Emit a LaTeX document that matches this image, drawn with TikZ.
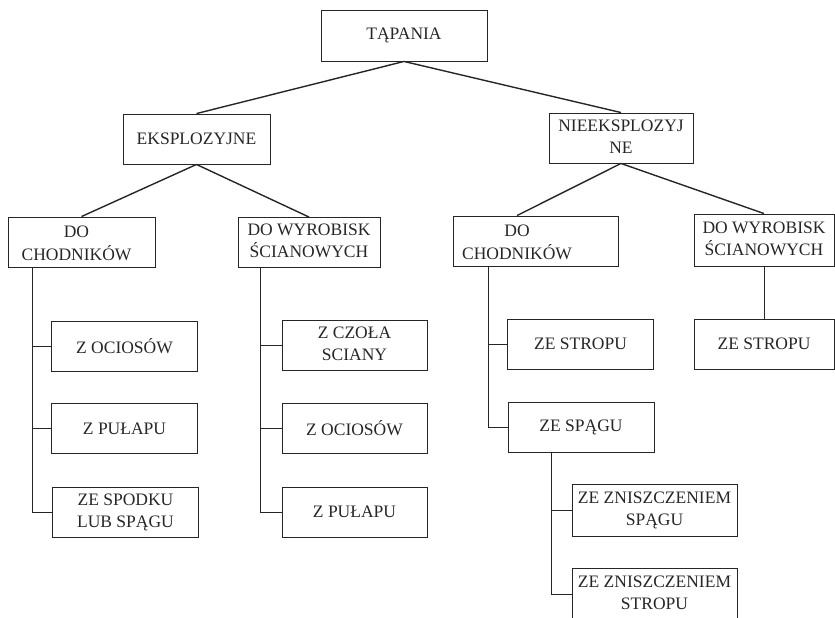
\documentclass[tikz,border=0pt]{standalone}
\usepackage{fontspec}
\setmainfont{Liberation Serif}
\usetikzlibrary{positioning}

\definecolor{ink}{gray}{0.15}
\newcommand{\twolines}[2]{\begin{tabular}{@{}c@{}}#1\\#2\end{tabular}}

\begin{document}
\begin{tikzpicture}[x=1pt, y=-1pt,
            every node/.style={draw=ink, text=ink, line width=0.9pt, minimum height=50pt, inner sep=2pt,
                minimum width=146pt, font=\fontsize{17.5}{22}\selectfont},
            wide/.style={minimum width=165pt},
            textonly/.style={draw=none, minimum height=0pt, minimum width=0pt, inner sep=0pt, anchor=base},
            branch/.style={draw=ink, line width=1.4pt},
            spine/.style={draw=ink, line width=0.9pt},
        ]
        \useasboundingbox (0,0) rectangle (835,618);

        \node (root) at (404,35.5) [minimum width=166pt, minimum height=51pt] {TĄPANIA};

        \node (eks) at (196.5,139) [minimum width=147pt] {EKSPLOZYJNE};
        \node (nie) at (621,138) [minimum width=144pt] {\twolines{NIEEKSPLOZYJ}{NE}};

        % "DO / CHODNIKÓW" boxes: lines set one by one
        \node (dch1) at (81.5,242) [minimum width=147pt] {};
        \node (dch1a) at ([xshift=-5, yshift=5]dch1.center) [textonly] {DO};
        \node (dch1b) at ([xshift=-5, yshift=-18]dch1.center) [textonly] {CHODNIKÓW};
        \node (dwy1) at (309,242.5) [minimum width=142pt] {\twolines{DO WYROBISK}{ŚCIANOWYCH}};
        \node (dch2) at (535.5,241) [wide] {};
        \node (dch2a) at ([xshift=-18.5, yshift=5]dch2.center) [textonly] {DO};
        \node (dch2b) at ([xshift=-18.5, yshift=-18]dch2.center) [textonly] {CHODNIKÓW};
        \node (dwy2) at (764,240) [minimum width=140pt, minimum height=52pt] {\twolines{DO WYROBISK}{ŚCIANOWYCH}};

        \node (l1a) at (124.5,346) {Z OCIOSÓW};
        \node (l1b) at (124.5,428.5) {Z PUŁAPU};
        \node (l1c) at (125.5,512) {\twolines{ZE SPODKU}{LUB SPĄGU}};

        \node (l2a) at (354.5,345.5) [minimum width=145pt] {\twolines{Z CZOŁA}{SCIANY}};
        \node (l2b) at (354.5,428.5) [minimum width=145pt] {Z OCIOSÓW};
        \node (l2c) at (354.5,512) [minimum width=145pt] {Z PUŁAPU};

        \node (l3a) at (580.5,344) {ZE STROPU};
        \node (l3b) at (581,427.5) {ZE SPĄGU};
        \node (l4a) at (764,344) [minimum width=140pt] {ZE STROPU};

        \node (l5a) at (654.5,510) [wide, minimum height=52pt] {\twolines{ZE ZNISZCZENIEM}{SPĄGU}};
        \node (l5b) at (654.5,594) [wide, minimum height=52pt] {\twolines{ZE ZNISZCZENIEM}{STROPU}};

        % top levels
        \draw[branch] (root.south) -- (eks.north);
        \draw[branch] (root.south) -- (nie.north);
        \draw[branch] (eks.south) -- (dch1.north);
        \draw[branch] (eks.south) -- (dwy1.north);
        \draw[branch] (nie.south) -- (dch2.north -| dch2a);
        \draw[branch] (nie.south) -- (dwy2.north);

        % spines
        \coordinate (sp1) at ([xshift=-49.5]dch1.south);
        \coordinate (sp2) at ([xshift=-49]dwy1.south);
        \coordinate (sp3) at ([xshift=-47.5]dch2.south);
        \coordinate (sp5) at ([xshift=-30]l3b.south);

        \draw[spine] (sp1) |- (l1c);
        \draw[spine] (l1a.west) -- (l1a.west -| sp1);
        \draw[spine] (l1b.west) -- (l1b.west -| sp1);

        \draw[spine] (sp2) |- (l2c);
        \draw[spine] (l2a.west) -- (l2a.west -| sp2);
        \draw[spine] (l2b.west) -- (l2b.west -| sp2);

        \draw[spine] (sp3) |- (l3b);
        \draw[spine] (l3a.west) -- (l3a.west -| sp3);

        \draw[spine] (dwy2.south) -- (l4a.north);

        \draw[spine] (sp5) |- (l5b);
        \draw[spine] (l5a.west) -- (l5a.west -| sp5);

        \end{tikzpicture}
\end{document}
